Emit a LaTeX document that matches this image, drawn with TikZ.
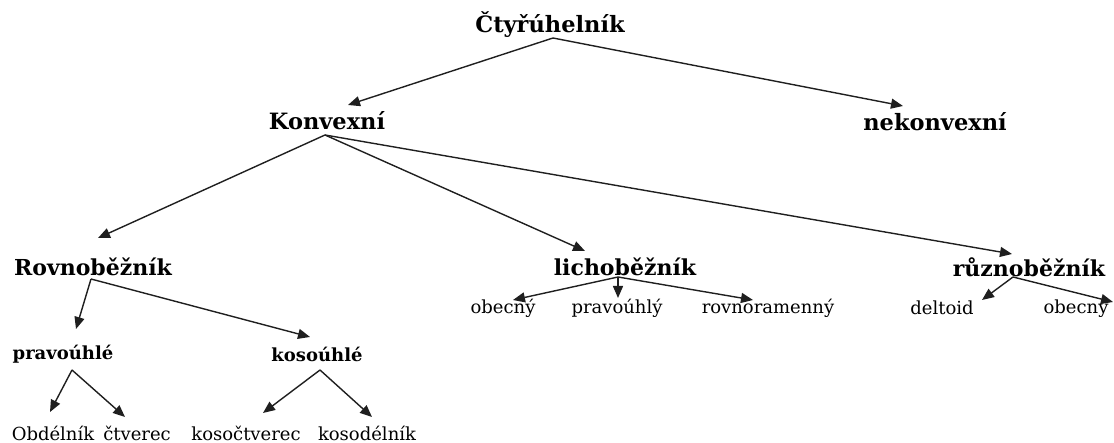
\documentclass[tikz,border=0pt]{standalone}
\usepackage{fontspec}
\setmainfont{DejaVu Serif}
\usetikzlibrary{arrows.meta}

\begin{document}
\begin{tikzpicture}[x=1pt,y=1pt,inner sep=0pt,
  lvla/.style={font=\bfseries\fontsize{22.5}{24}\selectfont},
  lvlb/.style={font=\bfseries\fontsize{22}{24}\selectfont},
  lvlc/.style={font=\bfseries\fontsize{18}{20}\selectfont},
  lvld/.style={font=\fontsize{18}{20}\selectfont},
  arr/.style={-{Triangle[length=12pt,width=10pt]},line width=1.4pt,black!88}]
\useasboundingbox (0,0) rectangle (1114,-443);

\node[lvla] (ctyr) at (550,-25) {Čtyřúhelník};

\node[lvla] (konv) at (327,-121) {Konvexní};
\node[lvla] (nekonv) at (935,-122) {nekonvexní};

\node[lvlb] (rovn) at (93,-267) {Rovnoběžník};
\node[lvlb] (lich) at (625,-267) {lichoběžník};
\node[lvlb] (ruzn) at (1029,-267) {různoběžník};

\node[lvld] (lobec) at (503,-308) {obecný};
\node[lvld] (lprav) at (617,-308) {pravoúhlý};
\node[lvld] (lrovn) at (768,-308) {rovnoramenný};
\node[lvld] (rdelt) at (942,-308) {deltoid};
\node[lvld] (robec) at (1076,-308) {obecný};

\node[lvlc] (prav) at (63,-354) {pravoúhlé};
\node[lvlc] (koso) at (317,-354) {kosoúhlé};

\node[lvld] (obd) at (53,-433) {Obdélník};
\node[lvld] (ctv) at (137,-433) {čtverec};
\node[lvld] (kosoc) at (246,-433) {kosočtverec};
\node[lvld] (kosod) at (367,-433) {kosodélník};

\draw[arr] ([shift={(3,-13)}]ctyr.center) -- ([shift={(21,16)}]konv.center);
\draw[arr] ([shift={(3,-13)}]ctyr.center) -- ([shift={(-32,16)}]nekonv.center);

\draw[arr] ([shift={(-2,-14)}]konv.center) -- ([shift={(5,29)}]rovn.center);
\draw[arr] ([shift={(-2,-14)}]konv.center) -- ([shift={(-40,16)}]lich.center);
\draw[arr] ([shift={(-2,-14)}]konv.center) -- ([shift={(-17,13)}]ruzn.center);

\draw[arr] ([shift={(-2,-12)}]rovn.center) -- ([shift={(13,25)}]prav.center);
\draw[arr] ([shift={(-2,-12)}]rovn.center) -- ([shift={(-7,17)}]koso.center);

\draw[arr] ([shift={(-7,-10)}]lich.center) -- ([shift={(10,8)}]lobec.center);
\draw[arr] ([shift={(-7,-10)}]lich.center) -- ([shift={(1,10)}]lprav.center);
\draw[arr] ([shift={(-7,-10)}]lich.center) -- ([shift={(-15,8)}]lrovn.center);

\draw[arr] ([shift={(-16,-10)}]ruzn.center) -- ([shift={(40,8)}]rdelt.center);
\draw[arr] ([shift={(-16,-10)}]ruzn.center) -- ([shift={(37,6)}]robec.center);

\draw[arr] ([shift={(9,-16)}]prav.center) -- ([shift={(-3,21)}]obd.center);
\draw[arr] ([shift={(9,-16)}]prav.center) -- ([shift={(-12,16)}]ctv.center);

\draw[arr] ([shift={(3,-16)}]koso.center) -- ([shift={(17,20)}]kosoc.center);
\draw[arr] ([shift={(3,-16)}]koso.center) -- ([shift={(5,16)}]kosod.center);
\end{tikzpicture}
\end{document}
